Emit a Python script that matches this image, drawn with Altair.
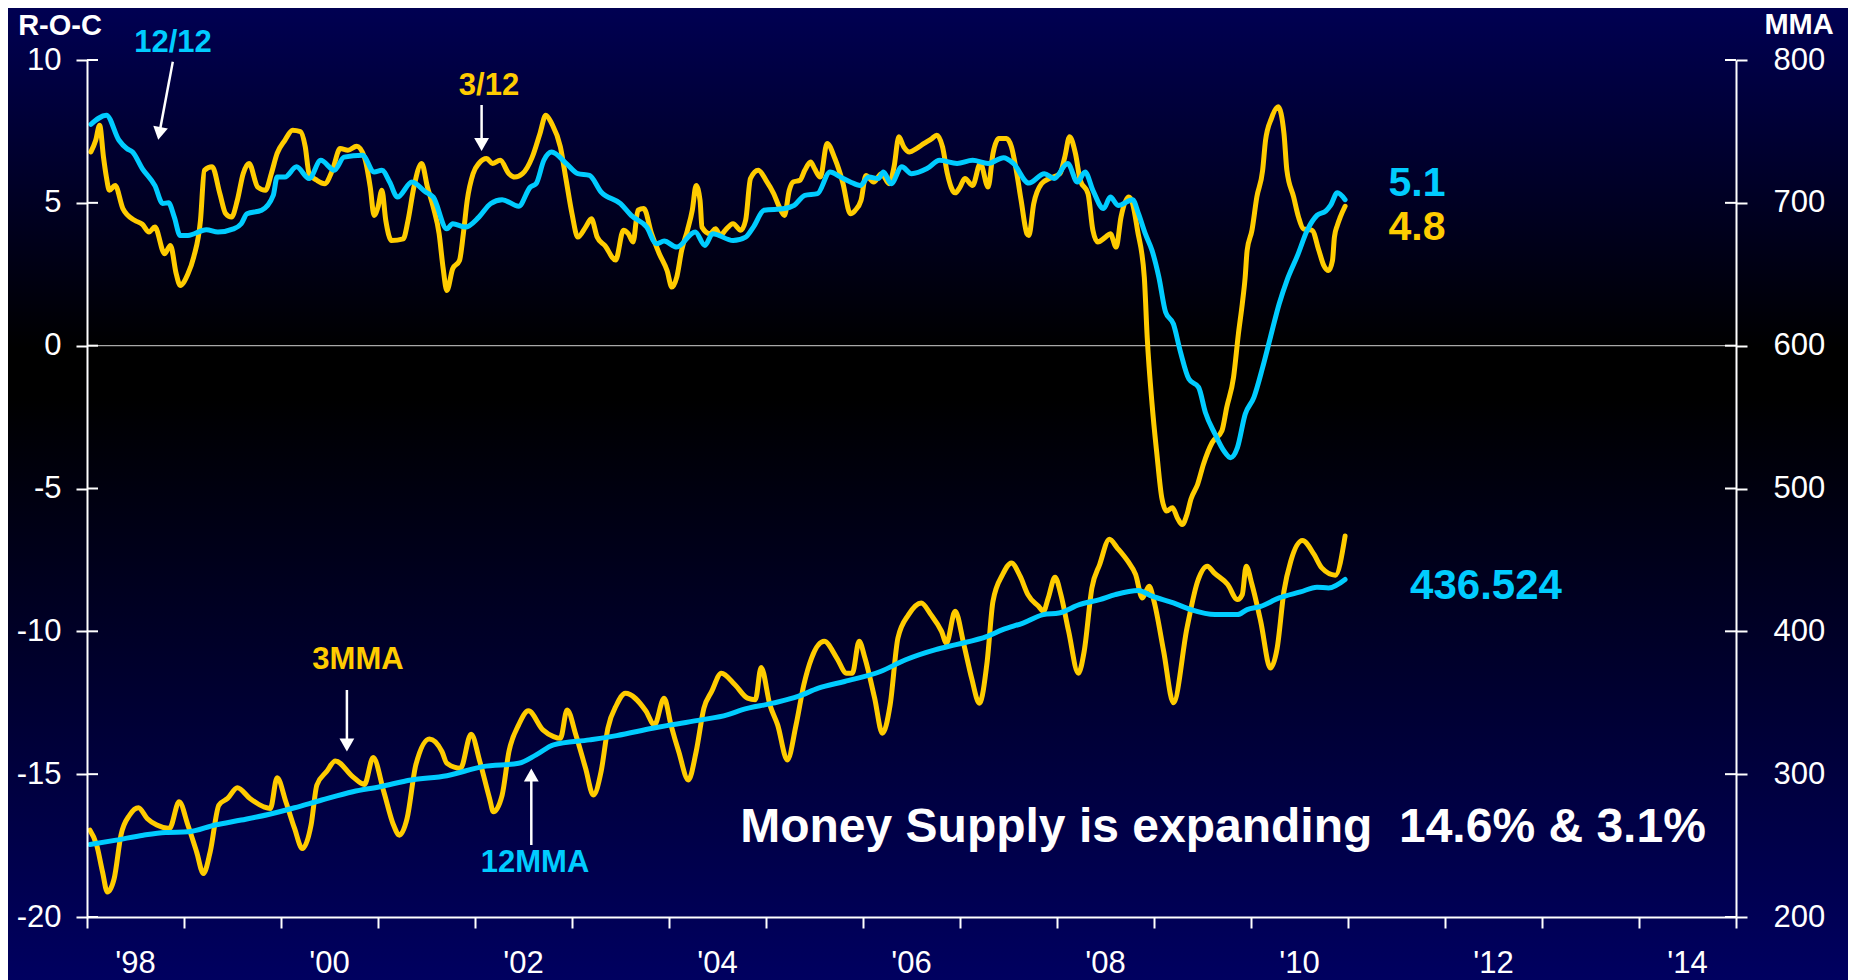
import altair as alt
import pandas as pd

# ---------------- data ----------------
# 12/12 rate of change (left axis, cyan)
roc12_t = [1998.04, 1998.20, 1998.33, 1998.41, 1998.47, 1998.57, 1998.70, 1998.78, 1998.84, 1998.90,
           1998.96, 1999.04, 1999.23, 1999.35, 1999.51, 1999.59, 1999.65, 1999.80, 1999.92, 1999.96,
           2000.04, 2000.16, 2000.29, 2000.41, 2000.55, 2000.65, 2000.84, 2000.96, 2001.04, 2001.12,
           2001.20, 2001.35, 2001.49, 2001.57, 2001.71, 2001.77, 2001.90, 2002.04, 2002.16, 2002.28,
           2002.45, 2002.57, 2002.63, 2002.71, 2002.79, 2002.94, 2003.06, 2003.18, 2003.30, 2003.50,
           2003.61, 2003.77, 2003.87, 2003.95, 2004.08, 2004.27, 2004.37, 2004.45, 2004.66, 2004.79,
           2004.87, 2004.98, 2005.19, 2005.29, 2005.40, 2005.53, 2005.66, 2005.77, 2005.87, 2005.97,
           2006.06, 2006.16, 2006.21, 2006.29, 2006.40, 2006.50, 2006.66, 2006.79, 2006.97, 2007.13,
           2007.29, 2007.45, 2007.55, 2007.71, 2007.87, 2007.97, 2008.11, 2008.21, 2008.29, 2008.37,
           2008.48, 2008.55, 2008.63, 2008.78, 2008.84, 2008.91, 2008.98, 2009.05, 2009.12, 2009.20,
           2009.27, 2009.36, 2009.46, 2009.53, 2009.63, 2009.72, 2009.79, 2009.86, 2009.94, 2010.03,
           2010.12, 2010.20, 2010.29, 2010.37, 2010.48, 2010.58, 2010.68, 2010.77, 2010.82, 2010.89,
           2010.97]
roc12_v = [7.75, 8.07, 7.19, 6.90, 6.78, 6.20, 5.60, 4.98, 5.00, 4.50,
           3.86, 3.86, 4.06, 3.98, 4.09, 4.27, 4.62, 4.74, 5.26, 5.90,
           5.90, 6.26, 5.85, 6.49, 6.14, 6.60, 6.67, 6.08, 6.14, 5.73,
           5.20, 5.73, 5.38, 5.20, 4.09, 4.27, 4.15, 4.50, 4.97, 5.11,
           4.88, 5.55, 5.67, 6.49, 6.78, 6.38, 6.02, 5.96, 5.38, 4.97,
           4.56, 4.15, 3.57, 3.66, 3.45, 3.98, 3.51, 3.92, 3.68, 3.80,
           4.15, 4.74, 4.80, 4.91, 5.26, 5.32, 6.08, 5.90, 5.73, 5.61,
           5.90, 5.85, 6.08, 5.67, 6.26, 6.02, 6.20, 6.49, 6.38, 6.49,
           6.38, 6.58, 6.38, 5.69, 6.02, 5.85, 6.38, 5.73, 6.08, 5.44,
           4.80, 5.20, 4.91, 5.11, 4.62, 3.92, 3.33, 2.40, 1.17, 0.76,
           -0.18, -1.17, -1.46, -2.34, -3.10, -3.68, -3.92, -3.57, -2.40, -1.81,
           -0.76, 0.29, 1.46, 2.28, 3.16, 4.04, 4.56, 4.71, 4.91, 5.35,
           5.11]

# 3/12 rate of change (left axis, gold)
roc3_t = [1998.04, 1998.09, 1998.13, 1998.17, 1998.20, 1998.23, 1998.29, 1998.37, 1998.49, 1998.57,
          1998.64, 1998.70, 1998.80, 1998.86, 1998.92, 1998.96, 1999.04, 1999.10, 1999.17, 1999.21,
          1999.29, 1999.37, 1999.43, 1999.49, 1999.55, 1999.61, 1999.67, 1999.76, 1999.84, 1999.90,
          1999.96, 2000.04, 2000.12, 2000.20, 2000.25, 2000.29, 2000.37, 2000.45, 2000.53, 2000.61,
          2000.69, 2000.78, 2000.86, 2000.92, 2000.96, 2001.00, 2001.04, 2001.08, 2001.14, 2001.26,
          2001.31, 2001.37, 2001.45, 2001.51, 2001.57, 2001.63, 2001.67, 2001.71, 2001.77, 2001.84,
          2001.88, 2001.92, 2001.98, 2002.04, 2002.12, 2002.18, 2002.26, 2002.35, 2002.41, 2002.49,
          2002.59, 2002.67, 2002.73, 2002.79, 2002.88, 2002.94, 2003.00, 2003.06, 2003.14, 2003.20,
          2003.26, 2003.34, 2003.45, 2003.53, 2003.58, 2003.63, 2003.68, 2003.74, 2003.82, 2003.90,
          2003.98, 2004.03, 2004.08, 2004.13, 2004.19, 2004.24, 2004.28, 2004.32, 2004.34, 2004.42,
          2004.48, 2004.53, 2004.58, 2004.66, 2004.74, 2004.79, 2004.84, 2004.92, 2005.00, 2005.08,
          2005.13, 2005.19, 2005.24, 2005.28, 2005.35, 2005.40, 2005.46, 2005.50, 2005.56, 2005.63,
          2005.71, 2005.79, 2005.87, 2005.92, 2005.98, 2006.03, 2006.11, 2006.19, 2006.27, 2006.32,
          2006.37, 2006.42, 2006.48, 2006.55, 2006.63, 2006.71, 2006.76, 2006.82, 2006.87, 2006.95,
          2007.00, 2007.05, 2007.13, 2007.21, 2007.29, 2007.34, 2007.40, 2007.48, 2007.53, 2007.58,
          2007.63, 2007.69, 2007.71, 2007.76, 2007.84, 2007.92, 2008.03, 2008.08, 2008.13, 2008.19,
          2008.24, 2008.32, 2008.37, 2008.42, 2008.50, 2008.55, 2008.61, 2008.66, 2008.74, 2008.78,
          2008.83, 2008.90, 2008.93, 2008.98, 2009.03, 2009.08, 2009.13, 2009.19, 2009.24, 2009.29,
          2009.34, 2009.38, 2009.45, 2009.51, 2009.60, 2009.70, 2009.75, 2009.82, 2009.87, 2009.91,
          2009.94, 2009.96, 2010.01, 2010.06, 2010.12, 2010.15, 2010.21, 2010.28, 2010.34, 2010.37,
          2010.44, 2010.49, 2010.54, 2010.63, 2010.70, 2010.75, 2010.80, 2010.84, 2010.86, 2010.89,
          2010.92, 2010.97]
roc3_v = [6.78, 7.19, 7.72, 6.60, 5.90, 5.44, 5.61, 4.80, 4.39, 4.25,
          3.98, 4.15, 3.22, 3.51, 2.51, 2.11, 2.51, 3.10, 4.39, 6.14,
          6.26, 5.32, 4.62, 4.50, 5.09, 6.02, 6.38, 5.55, 5.44, 6.02,
          6.73, 7.19, 7.54, 7.49, 6.96, 6.02, 5.79, 5.67, 6.14, 6.90,
          6.84, 6.98, 6.60, 5.55, 4.56, 4.85, 5.44, 4.39, 3.68, 3.74,
          4.39, 5.55, 6.38, 5.55, 4.85, 3.92, 2.75, 1.93, 2.69, 2.98,
          3.92, 5.09, 6.02, 6.38, 6.55, 6.38, 6.49, 6.02, 5.90, 6.02,
          6.60, 7.43, 8.07, 7.78, 6.96, 5.79, 4.62, 3.80, 4.15, 4.44,
          3.80, 3.50, 3.00, 4.04, 3.92, 3.63, 4.74, 4.80, 3.92, 3.22,
          2.63, 2.05, 2.40, 3.33, 4.04, 4.74, 5.61, 5.09, 4.15, 3.92,
          4.09, 3.86, 4.04, 4.27, 4.04, 4.39, 5.85, 6.14, 5.79, 5.32,
          4.91, 4.56, 5.44, 5.73, 5.79, 6.14, 6.43, 6.20, 5.90, 7.08,
          6.55, 5.73, 4.62, 4.74, 5.09, 5.96, 5.73, 6.02, 5.67, 6.26,
          7.31, 6.96, 6.78, 6.90, 7.08, 7.25, 7.37, 6.96, 6.02, 5.35,
          5.55, 5.85, 5.61, 6.38, 5.55, 6.73, 7.25, 7.25, 6.96, 6.14,
          5.09, 3.92, 3.86, 4.97, 5.67, 5.85, 6.02, 6.60, 7.31, 6.73,
          5.79, 5.32, 4.04, 3.63, 3.80, 3.92, 3.45, 4.50, 5.20, 4.97,
          4.04, 2.40, 0.29, -2.05, -3.80, -5.32, -5.79, -5.67, -6.02, -6.26,
          -5.91, -5.38, -4.85, -4.15, -3.39, -2.98, -2.16, -1.11, 0.41, 1.46,
          2.40, 3.33, 4.04, 5.20, 6.14, 7.19, 7.95, 8.36, 7.43, 6.14,
          5.20, 4.50, 4.09, 4.04, 3.33, 2.81, 2.63, 2.98, 3.80, 4.21,
          4.50, 4.88]

# 12-month moving average (right axis, cyan)
mma12_t = [1998.03, 1998.30, 1998.58, 1998.81, 1999.04, 1999.32, 1999.59, 1999.87, 2000.14, 2000.42,
           2000.74, 2001.02, 2001.34, 2001.71, 2002.08, 2002.45, 2002.63, 2002.81, 2003.18, 2003.46,
           2003.83, 2004.02, 2004.33, 2004.60, 2004.75, 2005.07, 2005.33, 2005.54, 2005.81, 2006.18,
           2006.44, 2006.75, 2006.96, 2007.28, 2007.44, 2007.65, 2007.86, 2008.02, 2008.23, 2008.44,
           2008.60, 2008.84, 2008.98, 2009.20, 2009.38, 2009.63, 2009.86, 2009.96, 2010.10, 2010.29,
           2010.51, 2010.68, 2010.80, 2010.97]
mma12_v = [250.7, 253.8, 257.3, 259.2, 259.6, 264.4, 267.9, 271.8, 276.5, 281.9,
           287.7, 291.2, 295.9, 298.9, 305.3, 307.6, 313.5, 320.5, 324.0, 327.0,
           332.1, 334.5, 338.0, 341.5, 345.0, 349.7, 354.4, 360.2, 364.9, 371.9,
           380.1, 387.2, 390.7, 396.5, 401.2, 405.8, 411.7, 412.8, 418.7, 422.2,
           425.7, 428.6, 424.6, 419.9, 415.2, 411.7, 411.7, 415.2, 417.5, 423.4,
           427.6, 430.9, 430.4, 436.3]

# 3-month moving average (right axis, gold)
mma3_t = [1998.03, 1998.10, 1998.16, 1998.21, 1998.28, 1998.35, 1998.44, 1998.53, 1998.62, 1998.72,
          1998.85, 1998.95, 1999.04, 1999.13, 1999.20, 1999.27, 1999.36, 1999.45, 1999.55, 1999.68,
          1999.82, 1999.89, 1999.96, 2000.05, 2000.14, 2000.22, 2000.31, 2000.37, 2000.47, 2000.56,
          2000.74, 2000.86, 2000.95, 2001.06, 2001.16, 2001.22, 2001.30, 2001.39, 2001.53, 2001.66,
          2001.71, 2001.85, 2001.96, 2002.05, 2002.15, 2002.19, 2002.28, 2002.35, 2002.45, 2002.55,
          2002.70, 2002.81, 2002.88, 2002.95, 2003.04, 2003.14, 2003.22, 2003.30, 2003.37, 2003.46,
          2003.55, 2003.76, 2003.85, 2003.95, 2004.02, 2004.10, 2004.20, 2004.28, 2004.36, 2004.44,
          2004.54, 2004.68, 2004.81, 2004.89, 2004.95, 2005.04, 2005.12, 2005.22, 2005.31, 2005.39,
          2005.47, 2005.60, 2005.73, 2005.83, 2005.89, 2005.96, 2006.02, 2006.12, 2006.20, 2006.28,
          2006.36, 2006.47, 2006.60, 2006.70, 2006.81, 2006.86, 2006.95, 2007.04, 2007.12, 2007.20,
          2007.28, 2007.34, 2007.44, 2007.53, 2007.62, 2007.70, 2007.81, 2007.86, 2007.91, 2007.98,
          2008.04, 2008.12, 2008.22, 2008.28, 2008.36, 2008.44, 2008.54, 2008.62, 2008.73, 2008.81,
          2008.88, 2008.95, 2009.00, 2009.10, 2009.20, 2009.34, 2009.45, 2009.55, 2009.62, 2009.76,
          2009.86, 2009.91, 2009.95, 2010.01, 2010.10, 2010.20, 2010.27, 2010.34, 2010.41, 2010.53,
          2010.65, 2010.73, 2010.87, 2010.97]
mma3_v = [260.8, 250.3, 231.6, 217.5, 226.9, 257.3, 271.4, 276.5, 269.0, 264.4,
          262.0, 280.7, 264.4, 245.6, 230.4, 245.6, 278.4, 283.0, 290.5, 283.0,
          277.2, 276.0, 297.5, 280.7, 262.0, 247.9, 264.4, 292.4, 301.8, 309.3,
          298.2, 292.8, 311.6, 287.7, 264.4, 257.3, 269.0, 306.5, 324.7, 315.8,
          307.6, 304.1, 328.0, 308.8, 283.0, 273.7, 285.4, 315.8, 334.5, 344.4,
          331.0, 326.3, 325.1, 345.0, 327.5, 304.1, 285.4, 301.8, 332.1, 348.6,
          356.7, 344.4, 334.5, 353.2, 334.5, 315.8, 295.9, 315.8, 346.2, 357.9,
          370.7, 362.6, 353.2, 352.1, 374.7, 348.6, 334.5, 309.9, 334.5, 362.6,
          381.3, 393.0, 381.3, 370.7, 370.7, 393.0, 381.3, 353.2, 328.6, 348.6,
          395.3, 411.7, 419.9, 411.7, 400.0, 391.8, 414.0, 390.7, 367.2, 349.7,
          378.9, 421.1, 439.8, 447.9, 438.6, 425.7, 417.5, 414.0, 423.4, 437.9,
          425.7, 400.0, 370.7, 385.9, 430.4, 446.8, 464.4, 458.5, 449.1, 439.8,
          423.4, 431.6, 421.1, 385.9, 350.0, 402.3, 435.1, 445.6, 440.9, 432.8,
          422.2, 425.7, 445.6, 432.8, 407.0, 374.3, 388.3, 428.1, 449.1, 463.6,
          453.8, 444.4, 439.3, 466.7]

left_ticks = [-20, -15, -10, -5, 0, 5, 10]
right_ticks = [200, 300, 400, 500, 600, 700, 800]
year_ticks = list(range(1998, 2016))
label_years = [1998, 2000, 2002, 2004, 2006, 2008, 2010, 2012, 2014]
label_texts = ["'98", "'00", "'02", "'04", "'06", "'08", "'10", "'12", "'14"]
left_title = "R-O-C"
right_title = "MMA"

# ---------------- styling ----------------
W, H = 1649, 857
GOLD = "#FFCC00"
CYAN = "#00CCFF"
FONT = "Liberation Sans"
LW = 5

one = pd.DataFrame({"a": [0]})

xscale = alt.Scale(domain=[1998, 2015], nice=False, zero=False)
xaxis = alt.Axis(values=year_ticks, labels=False, title=None, grid=False, tickSize=11,
                 tickWidth=2, tickColor="white", domainColor="white", domainWidth=2, zindex=2)
X = alt.X("t:Q", scale=xscale, axis=xaxis)

yL = alt.Y("v:Q", scale=alt.Scale(domain=[-20, 10], nice=False, zero=False),
           axis=alt.Axis(values=left_ticks, title=None,
                         labelFont=FONT, labelFontSize=31, labelColor="white", labelPadding=15,
                         labelExpr="datum.value < 0 ? '-' + abs(datum.value) : '' + datum.value",
                         tickSize=11, tickWidth=2, tickColor="white", domainColor="white",
                         domainWidth=2, grid=False, zindex=2))
yR = alt.Y("m:Q", scale=alt.Scale(domain=[200, 800], nice=False, zero=False),
           axis=alt.Axis(orient="right", values=right_ticks, title=None,
                         labelFont=FONT, labelFontSize=31,
                         labelColor="white", labelPadding=26, labelAlign="left",
                         tickSize=11, tickWidth=2, tickColor="white", domainColor="white",
                         domainWidth=2, grid=False, zindex=2))

# background gradient covering the whole chart
bg = alt.Chart(one).mark_rect(
    fill=alt.Gradient(gradient="linear",
                      stops=[alt.GradientStop(color="#000052", offset=0),
                             alt.GradientStop(color="#000000", offset=0.35),
                             alt.GradientStop(color="#000000", offset=0.40),
                             alt.GradientStop(color="#000060", offset=1)],
                      x1=0, x2=0, y1=0, y2=1)
).encode(x=alt.value(-79), x2=alt.value(W + 112), y=alt.value(-52), y2=alt.value(H + 63))

zero_line = alt.Chart(pd.DataFrame({"v": [0]})).mark_rule(color="#a8a8a8", strokeWidth=1.3).encode(
    y=yL, x=alt.value(0), x2=alt.value(W))
inner_left = alt.Chart(pd.DataFrame({"v": left_ticks})).mark_rule(color="white", strokeWidth=2).encode(
    y=yL, x=alt.value(0), x2=alt.value(11))
inner_right = alt.Chart(pd.DataFrame({"m": right_ticks})).mark_rule(color="white", strokeWidth=2).encode(
    y=yR, x=alt.value(W - 11), x2=alt.value(W))

xlabels = alt.Chart(pd.DataFrame({"t": [y + 0.5 for y in label_years], "lab": label_texts})).mark_text(
    color="white", font=FONT, fontSize=31, baseline="middle", align="center").encode(
    x=X, y=alt.value(903.5), text="lab:N")


def line(t, vals, field, enc_y, color):
    df = pd.DataFrame({"t": t, field: vals})
    return alt.Chart(df).mark_line(color=color, strokeWidth=LW, interpolate="monotone",
                                   strokeCap="round", strokeJoin="round").encode(x=X, y=enc_y)


def txt(s, x, y, color, size, baseline="middle"):
    return alt.Chart(one).mark_text(text=s, color=color, font=FONT, fontSize=size,
                                    fontWeight="bold", align="center", baseline=baseline).encode(
        x=alt.value(x), y=alt.value(y))


def arrow(x1, y1, x2, y2, hx, hy, shape, angle=0):
    shaft = alt.Chart(one).mark_rule(color="white", strokeWidth=2.5).encode(
        x=alt.value(x1), y=alt.value(y1), x2=alt.value(x2), y2=alt.value(y2))
    head = alt.Chart(one).mark_point(shape=shape, filled=True, color="white", size=220,
                                     angle=angle, opacity=1, strokeWidth=0).encode(
        x=alt.value(hx), y=alt.value(hy))
    return [shaft, head]


annotations = [
    txt(left_title, -27, -34, "white", 29),
    txt(right_title, 1712, -35, "white", 29),
    txt("12/12", 86, -17, CYAN, 31),
    txt("3/12", 402, 26, GOLD, 31),
    txt("5.1", 1330, 124, CYAN, 41),
    txt("4.8", 1330, 168, GOLD, 41),
    txt("436.524", 1399, 526, CYAN, 42),
    txt("3MMA", 271, 600, GOLD, 31),
    txt("12MMA", 448, 803, CYAN, 31),
    txt("Money Supply is expanding\u00a0 14.6% & 3.1%", 1136, 782, "white", 48, "alphabetic"),
]
arrows = (arrow(85.8, 1.7, 72.6, 72.0, 72.4, 73.5, "triangle-down", 10.5)
          + arrow(394.6, 45, 394.6, 82, 394.6, 84.5, "triangle-down")
          + arrow(259.9, 630, 259.9, 682, 259.9, 685, "triangle-down")
          + arrow(444.3, 785, 444.3, 718, 444.3, 715, "triangle-up"))

left_group = alt.layer(
    bg, zero_line, inner_left,
    line(roc3_t, roc3_v, "v", yL, GOLD),
    line(roc12_t, roc12_v, "v", yL, CYAN),
    xlabels,
    *annotations, *arrows,
)
right_group = alt.layer(
    inner_right,
    line(mma3_t, mma3_v, "m", yR, GOLD),
    line(mma12_t, mma12_v, "m", yR, CYAN),
)

chart = alt.layer(left_group, right_group).resolve_scale(y="independent").properties(
    width=W, height=H,
    padding={"left": 79, "top": 52, "right": 112, "bottom": 63},
    autosize=alt.AutoSizeParams(type="none"),
).configure_view(stroke=None).configure(background="#000040")

chart.save("out.html", embed_options={"renderer": "svg", "actions": False})
